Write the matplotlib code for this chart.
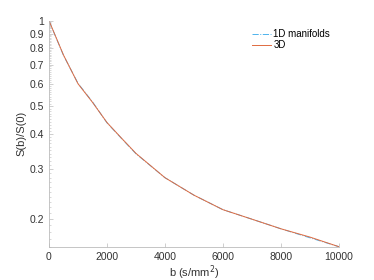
import matplotlib
matplotlib.use("Agg")
import matplotlib.pyplot as plt
from matplotlib.ticker import FixedLocator, FixedFormatter, LogLocator, NullFormatter

plt.rcParams['font.family'] = ['Liberation Sans', 'DejaVu Sans']

# b-values (s/mm^2) and normalised signal
b_vals = [0, 500, 1000, 1500, 2000, 2500, 3000, 4000, 5000, 6000, 7000, 8000, 9000, 10000]
sig_1d = [1.0, 0.755, 0.602, 0.518, 0.437, 0.385, 0.340, 0.280, 0.243, 0.216, 0.200, 0.185, 0.172, 0.160]
sig_3d = [1.0, 0.757, 0.600, 0.516, 0.438, 0.386, 0.341, 0.280, 0.243, 0.216, 0.200, 0.185, 0.173, 0.160]

yticks = [0.2, 0.3, 0.4, 0.5, 0.6, 0.7, 0.8, 0.9, 1.0]
ytick_labels = ['0.2', '0.3', '0.4', '0.5', '0.6', '0.7', '0.8', '0.9', '1']
xticks = [0, 2000, 4000, 6000, 8000, 10000]

fig = plt.figure(figsize=(3.74, 2.80), dpi=100)
ax = fig.add_axes([0.131, 0.119, 0.775, 0.807])

ax.plot(b_vals, sig_1d, color=(0.30, 0.70, 0.93), lw=0.7, ls='-.', label='1D manifolds')
ax.plot(b_vals, sig_3d, color=(0.88, 0.42, 0.25), lw=0.7, label='3D')

ax.set_yscale('log')
ax.set_xlim(0, 10000)
ax.set_ylim(0.16, 1.0)
ax.yaxis.set_major_locator(FixedLocator(yticks))
ax.yaxis.set_major_formatter(FixedFormatter(ytick_labels))
ax.yaxis.set_minor_locator(LogLocator(base=10, subs=[i / 10 for i in range(10, 100)], numticks=100))
ax.yaxis.set_minor_formatter(NullFormatter())
ax.set_xticks(xticks)

ax.spines['top'].set_visible(False)
ax.spines['right'].set_visible(False)
for s in ('left', 'bottom'):
    ax.spines[s].set_color('#bbbbbb')
    ax.spines[s].set_linewidth(0.6)
ax.tick_params(which='both', direction='in', colors='#bbbbbb', labelcolor='#333333', labelsize=7.5)
ax.tick_params(which='major', length=3, width=0.5)
ax.tick_params(which='minor', length=1.5, width=0.4)

ax.set_xlabel('b (s/mm$^2$)', fontsize=8, color='#333333', labelpad=1)
ax.set_ylabel('S(b)/S(0)', fontsize=8, color='#333333', labelpad=2)

ax.legend(loc='upper right', bbox_to_anchor=(1.0, 1.0), frameon=False, fontsize=7,
          handlelength=2.0, handletextpad=0.2, labelspacing=0.1)

fig.savefig('out.png', dpi=100)
